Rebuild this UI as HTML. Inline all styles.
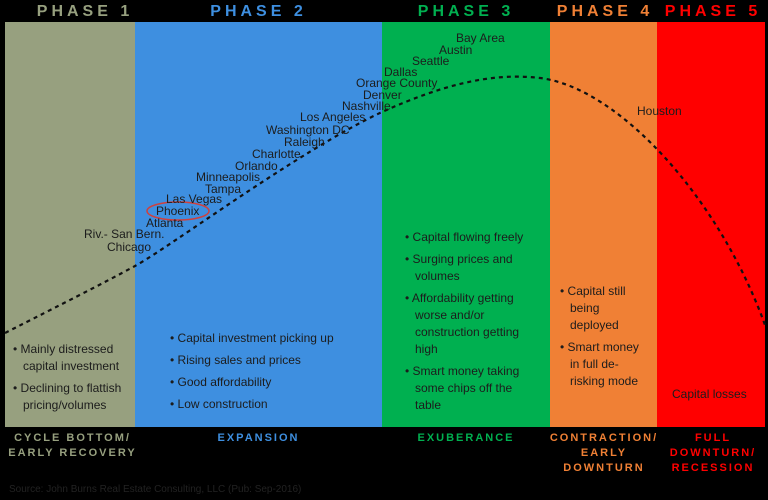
<!DOCTYPE html>
<html><head><meta charset="utf-8"><style>
body{margin:0;width:768px;height:500px;background:#000;position:relative;overflow:hidden;font-family:"Liberation Sans",sans-serif}
.col{position:absolute;top:22px;height:405px}
.h{position:absolute;top:3px;font-weight:bold;font-size:16px;letter-spacing:4px;text-align:center}
.f{position:absolute;font-weight:bold;font-size:11px;letter-spacing:2px;text-align:center;line-height:15px}
.t{position:absolute;font-size:12px;color:#1c1c1c;white-space:nowrap;line-height:14px}
.b{position:absolute;font-size:12px;color:#1c1c1c;line-height:17px}
.b div{padding-left:10px;text-indent:-10px;margin-bottom:5px}
</style></head><body>
<div class="col" style="left:5px;width:130px;background:#97a07f"></div>
<div class="col" style="left:135px;width:247px;background:#3e8fe0"></div>
<div class="col" style="left:382px;width:168px;background:#00b050"></div>
<div class="col" style="left:550px;width:107px;background:#f08035"></div>
<div class="col" style="left:657px;width:108px;background:#ff0000"></div>
<div class="h" style="left:5px;width:160px;color:#97a07f">PHASE 1</div>
<div class="h" style="left:135px;width:247px;color:#3e8fe0">PHASE 2</div>
<div class="h" style="left:382px;width:168px;color:#00b050">PHASE 3</div>
<div class="h" style="left:550px;width:110px;color:#f08035">PHASE 4</div>
<div class="h" style="left:657px;width:112px;color:#ff0000">PHASE 5</div>
<svg style="position:absolute;left:0;top:0" width="768" height="500"><path d="M5,333 C60,305 100,285 135,266 S300,150 382,112 C440,86 490,72 540,78 C620,88 720,200 765,325" fill="none" stroke="#111" stroke-width="2.2" stroke-dasharray="4,4"/>
<ellipse cx="178" cy="211" rx="31" ry="9" fill="none" stroke="#d0403c" stroke-width="1.5"/></svg>
<div class="t" style="left:456px;top:31px">Bay Area</div>
<div class="t" style="left:439px;top:43px">Austin</div>
<div class="t" style="left:412px;top:54px">Seattle</div>
<div class="t" style="left:384px;top:65px">Dallas</div>
<div class="t" style="left:356px;top:76px">Orange County</div>
<div class="t" style="left:363px;top:88px">Denver</div>
<div class="t" style="left:342px;top:99px">Nashville</div>
<div class="t" style="left:300px;top:110px">Los Angeles</div>
<div class="t" style="left:266px;top:123px">Washington DC</div>
<div class="t" style="left:284px;top:135px">Raleigh</div>
<div class="t" style="left:252px;top:147px">Charlotte</div>
<div class="t" style="left:235px;top:159px">Orlando</div>
<div class="t" style="left:196px;top:170px">Minneapolis</div>
<div class="t" style="left:205px;top:182px">Tampa</div>
<div class="t" style="left:166px;top:192px">Las Vegas</div>
<div class="t" style="left:156px;top:204px">Phoenix</div>
<div class="t" style="left:146px;top:216px">Atlanta</div>
<div class="t" style="left:84px;top:227px">Riv.- San Bern.</div>
<div class="t" style="left:107px;top:240px">Chicago</div>
<div class="t" style="left:637px;top:104px">Houston</div>
<div class="b" style="left:13px;top:341px;width:120px"><div>• Mainly distressed capital investment</div><div>• Declining to flattish pricing/volumes</div></div>
<div class="b" style="left:170px;top:330px;width:210px"><div>• Capital investment picking up</div><div>• Rising sales and prices</div><div>• Good affordability</div><div>• Low construction</div></div>
<div class="b" style="left:405px;top:229px;width:128px"><div>• Capital flowing freely</div><div>• Surging prices and volumes</div><div>• Affordability getting worse and/or construction getting high</div><div>• Smart money taking some chips off the table</div></div>
<div class="b" style="left:560px;top:283px;width:82px"><div>• Capital still being deployed</div><div>• Smart money in full de-risking mode</div></div>
<div class="b" style="left:672px;top:386px">Capital losses</div>
<div class="f" style="left:0;width:145px;top:431px;color:#97a07f">CYCLE BOTTOM/<br>EARLY RECOVERY</div>
<div class="f" style="left:135px;width:247px;top:431px;color:#3e8fe0">EXPANSION</div>
<div class="f" style="left:382px;width:168px;top:431px;color:#00b050">EXUBERANCE</div>
<div class="f" style="left:548px;width:112px;top:431px;color:#f08035">CONTRACTION/<br>EARLY<br>DOWNTURN</div>
<div class="f" style="left:657px;width:112px;top:431px;color:#ff0000">FULL<br>DOWNTURN/<br>RECESSION</div>
<div style="position:absolute;left:9px;top:484px;font-size:10px;color:#222">Source: John Burns Real Estate Consulting, LLC (Pub: Sep-2016)</div>
</body></html>
